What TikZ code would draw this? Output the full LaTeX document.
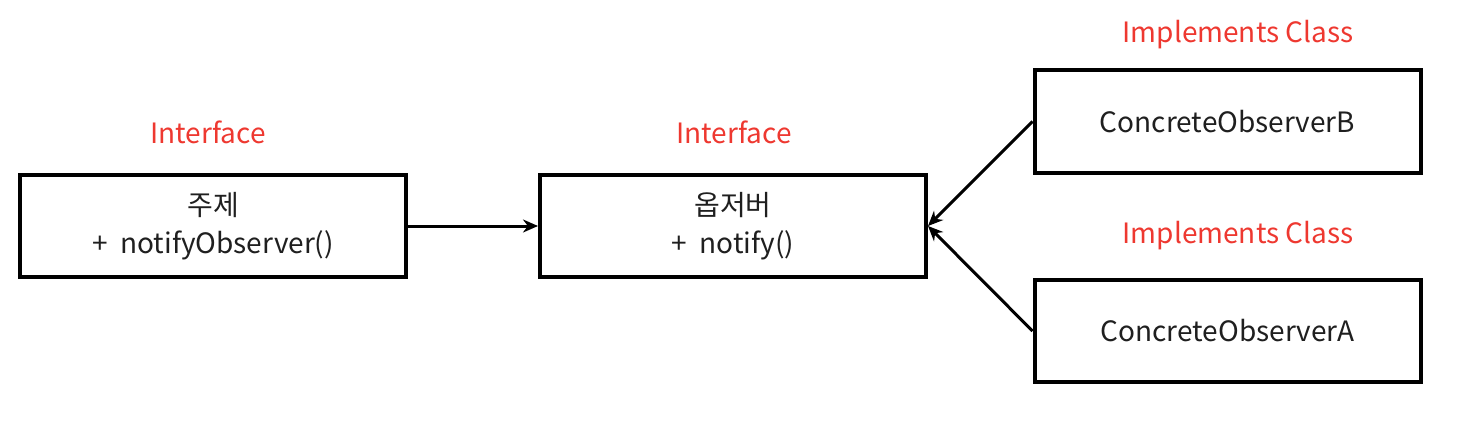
\documentclass[tikz,border=0pt]{standalone}
\usepackage{fontspec}
\setmainfont{Noto Sans CJK KR}
\usetikzlibrary{arrows.meta}

\begin{document}
\begin{tikzpicture}
            [x=0.5pt,y=-0.5pt,
                box/.style={draw=black,line width=2pt,minimum width=193pt,minimum height=51pt,
                    align=center,inner sep=0pt,text=black!88,font=\fontsize{14}{19}\selectfont},
                tag/.style={text=tagred,font=\fontsize{14}{16}\selectfont},
                link/.style={-{Stealth[length=7.5pt,width=6.5pt]},line width=1.5pt}]
            \definecolor{tagred}{RGB}{238,56,48}
            \useasboundingbox (0,0) rectangle (1482,444);

            %the two interfaces
            \node[box] (subject) at (213,226) {주제\\+\ \ notifyObserver()};
            \node[box] (observer) at (733,226) {옵저버\\+\ \ notify()};
            \node[tag] (subjecttag) at (208,132) {Interface};
            \node[tag] (observertag) at (734,132) {Interface};

            %the implementing classes
            \node[box] (obsb) at (1227.5,121.5) {ConcreteObserverB};
            \node[box] (obsa) at (1227.5,331) {ConcreteObserverA};
            \node[tag] (obsbtag) at (1238,35) {Implements Class};
            \node[tag] (obsatag) at (1238,236) {Implements Class};

            %the connectors
            \draw[link] (subject.east) -- (observer.west);
            \draw[link] (obsb.west) -- (observer.east);
            \draw[link] (obsa.west) -- (observer.east);
        \end{tikzpicture}
\end{document}
